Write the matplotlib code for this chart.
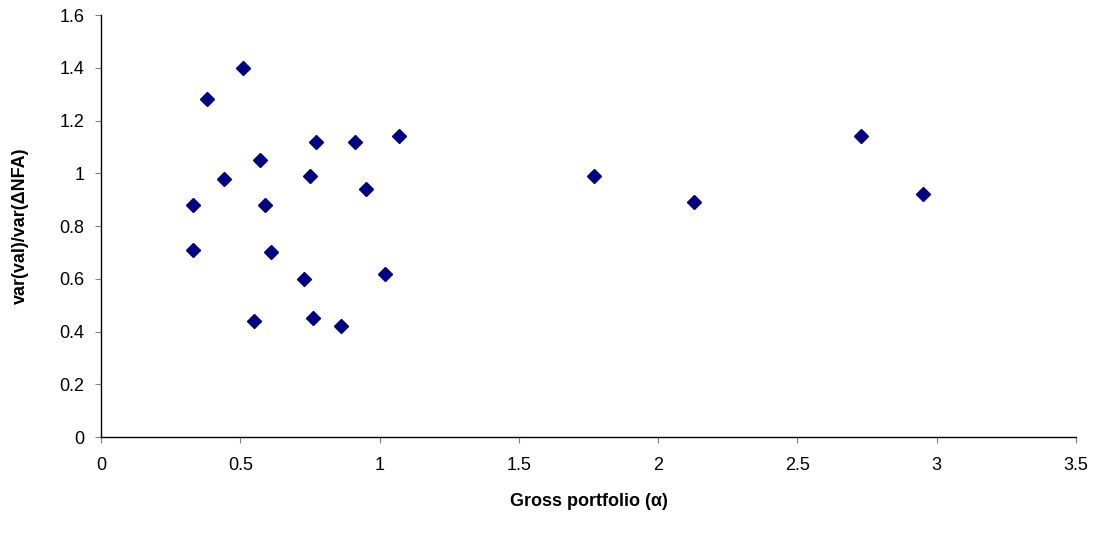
import matplotlib
matplotlib.use('Agg')
import matplotlib.pyplot as plt

plt.rcParams['font.family'] = ['Liberation Sans', 'DejaVu Sans']

# gross portfolio (alpha) and variance ratio
alpha = [0.51, 0.38, 0.77, 0.91, 1.07, 0.57, 0.44, 0.75, 0.95, 0.33, 0.59,
         0.33, 0.61, 0.73, 1.02, 0.55, 0.76, 0.86, 1.77, 2.13, 2.73, 2.95]
ratio = [1.40, 1.28, 1.12, 1.12, 1.14, 1.05, 0.98, 0.99, 0.94, 0.88, 0.88,
         0.71, 0.70, 0.60, 0.62, 0.44, 0.45, 0.42, 0.99, 0.89, 1.14, 0.92]

fig = plt.figure(figsize=(10.99, 5.37), dpi=100)
ax = fig.add_axes([0.092, 0.186, 0.887, 0.786])

ax.plot(alpha, ratio, linestyle='none', marker='D', markersize=7,
        color='#000080', markeredgecolor='#000080')

ax.set_xlim(0, 3.5)
ax.set_ylim(0, 1.6)
ax.set_xticks([0, 0.5, 1, 1.5, 2, 2.5, 3, 3.5])
ax.set_xticklabels(['0', '0.5', '1', '1.5', '2', '2.5', '3', '3.5'])
ax.set_yticks([0, 0.2, 0.4, 0.6, 0.8, 1, 1.2, 1.4, 1.6])
ax.set_yticklabels(['0', '0.2', '0.4', '0.6', '0.8', '1', '1.2', '1.4', '1.6'])

for s in ['top', 'right']:
    ax.spines[s].set_visible(False)
for s in ['left', 'bottom']:
    ax.spines[s].set_linewidth(1.0)
    ax.spines[s].set_color('black')

ax.tick_params(direction='out', length=4, width=0.8, colors='#808080',
               labelcolor='black', labelsize=13)
ax.tick_params(axis='x', pad=10)
ax.tick_params(axis='y', pad=8)

ax.set_xlabel('Gross portfolio (α)', fontsize=13, fontweight='bold', labelpad=14)
ax.set_ylabel('var(val)/var(ΔNFA)', fontsize=13, fontweight='bold', labelpad=22)

fig.savefig('out.png', dpi=100)
